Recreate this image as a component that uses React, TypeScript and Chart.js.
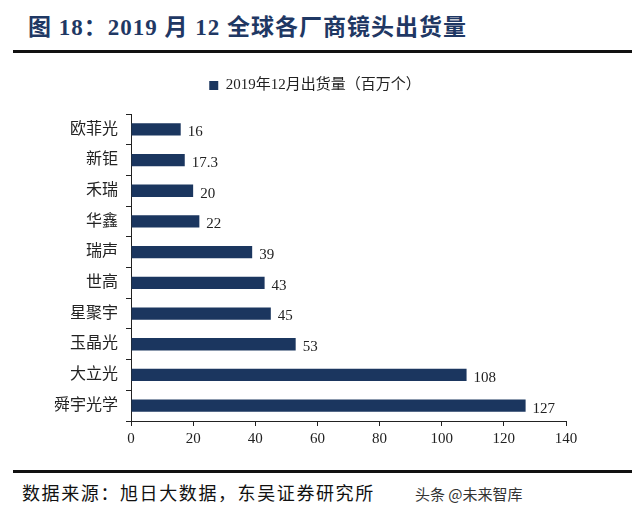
import React, { useEffect, useRef } from "react";
import { Chart, registerables } from "chart.js";

Chart.register(...registerables);

const categories = ["欧菲光", "新钜", "禾瑞", "华鑫", "瑞声", "世高", "星聚宇", "玉晶光", "大立光", "舜宇光学"];
const shipments = [16, 17.3, 20, 22, 39, 43, 45, 53, 108, 127];
const seriesLabel = "2019年12月出货量（百万个）";
const xTicks = [0, 20, 40, 60, 80, 100, 120, 140];

const NAVY = "#1b365f";
const SERIF = "'Liberation Serif', 'Noto Sans CJK SC', serif";

const valueLabels = {
  id: "valueLabels",
  afterDatasetsDraw(chart: any) {
    const ctx = chart.ctx;
    const meta = chart.getDatasetMeta(0);
    ctx.save();
    ctx.font = "15px " + SERIF;
    ctx.fillStyle = "#222";
    ctx.textAlign = "left";
    ctx.textBaseline = "middle";
    meta.data.forEach((bar: any, i: number) => {
      ctx.fillText(String(shipments[i]), bar.x + 7, bar.y + 3);
    });
    ctx.restore();
  },
};

export default function App() {
  const ref = useRef<HTMLCanvasElement | null>(null);
  useEffect(() => {
    document.body.style.margin = "0";
    const chart = new Chart(ref.current!, {
      type: "bar",
      data: {
        labels: categories,
        datasets: [
          {
            label: seriesLabel,
            data: shipments,
            backgroundColor: NAVY,
            borderWidth: 0,
            categoryPercentage: 1,
            barPercentage: 0.4,
          },
        ],
      },
      options: {
        indexAxis: "y",
        animation: false,
        responsive: false,
        devicePixelRatio: 1,
        layout: { padding: { top: 6, right: 10, bottom: 0, left: 0 } },
        plugins: {
          legend: {
            display: true,
            position: "top",
            labels: {
              boxWidth: 9,
              boxHeight: 9,
              color: "#222",
              font: { family: SERIF, size: 15 },
              padding: 26,
            },
          },
          subtitle: {
            display: true,
            position: "top",
            weight: 500,
            text: "",
            font: { size: 1, lineHeight: 1 },
            padding: { top: 5, bottom: 5 },
          } as any,
          tooltip: { enabled: false },
        },
        scales: {
          x: {
            min: 0,
            max: 140,
            afterBuildTicks: (scale: any) => {
              scale.ticks = xTicks.map((v) => ({ value: v }));
            },
            afterFit: (scale: any) => {
              scale.height = 39;
            },
            grid: {
              display: true,
              drawOnChartArea: false,
              drawTicks: true,
              tickLength: 5,
              color: "#222",
            },
            border: { display: true, color: "#222", width: 1 },
            ticks: {
              color: "#222",
              font: { family: SERIF, size: 15 },
              padding: 4,
            },
          },
          y: {
            afterFit: (scale: any) => {
              scale.width = 131;
            },
            grid: {
              display: true,
              drawOnChartArea: false,
              drawTicks: true,
              tickLength: 5,
              offset: true,
              color: "#222",
            },
            border: { display: true, color: "#222", width: 1 },
            ticks: {
              color: "#222",
              font: { family: SERIF, size: 16 },
              padding: 8,
            },
          },
          spacer: {
            type: "category",
            position: "right",
            labels: [""],
            grid: { display: false },
            border: { display: false },
            ticks: { display: false },
            afterFit: (scale: any) => {
              scale.width = 64;
            },
          } as any,
        },
      },
      plugins: [valueLabels],
    });
    return () => chart.destroy();
  }, []);

  return (
    <div style={{ position: "relative", width: 640, height: 518, background: "#fff", overflow: "hidden" }}>
      <div
        style={{
          position: "absolute",
          left: 28,
          top: 12,
          fontFamily: SERIF,
          fontWeight: "bold",
          fontSize: 23,
          letterSpacing: 1,
          color: "#1f3864",
          whiteSpace: "nowrap",
          lineHeight: "32px",
        }}
      >
        图 18：2019 月 12 全球各厂商镜头出货量
      </div>
      <div style={{ position: "absolute", left: 13, top: 50, width: 619, height: 3, background: "#111" }} />
      <canvas ref={ref} width={640} height={414} style={{ position: "absolute", left: 0, top: 46 }} />
      <div style={{ position: "absolute", left: 13, top: 470, width: 619, height: 3, background: "#111" }} />
      <div
        style={{
          position: "absolute",
          left: 22,
          top: 480,
          fontFamily: SERIF,
          fontSize: 18,
          letterSpacing: 1.6,
          color: "#111",
          whiteSpace: "nowrap",
          lineHeight: "28px",
        }}
      >
        数据来源：旭日大数据，东吴证券研究所
      </div>
      <div
        style={{
          position: "absolute",
          left: 415,
          top: 483,
          fontFamily: "'Noto Sans CJK SC', sans-serif",
          fontSize: 15,
          color: "#333",
          whiteSpace: "nowrap",
          lineHeight: "22px",
        }}
      >
        头条 @未来智库
      </div>
    </div>
  );
}
